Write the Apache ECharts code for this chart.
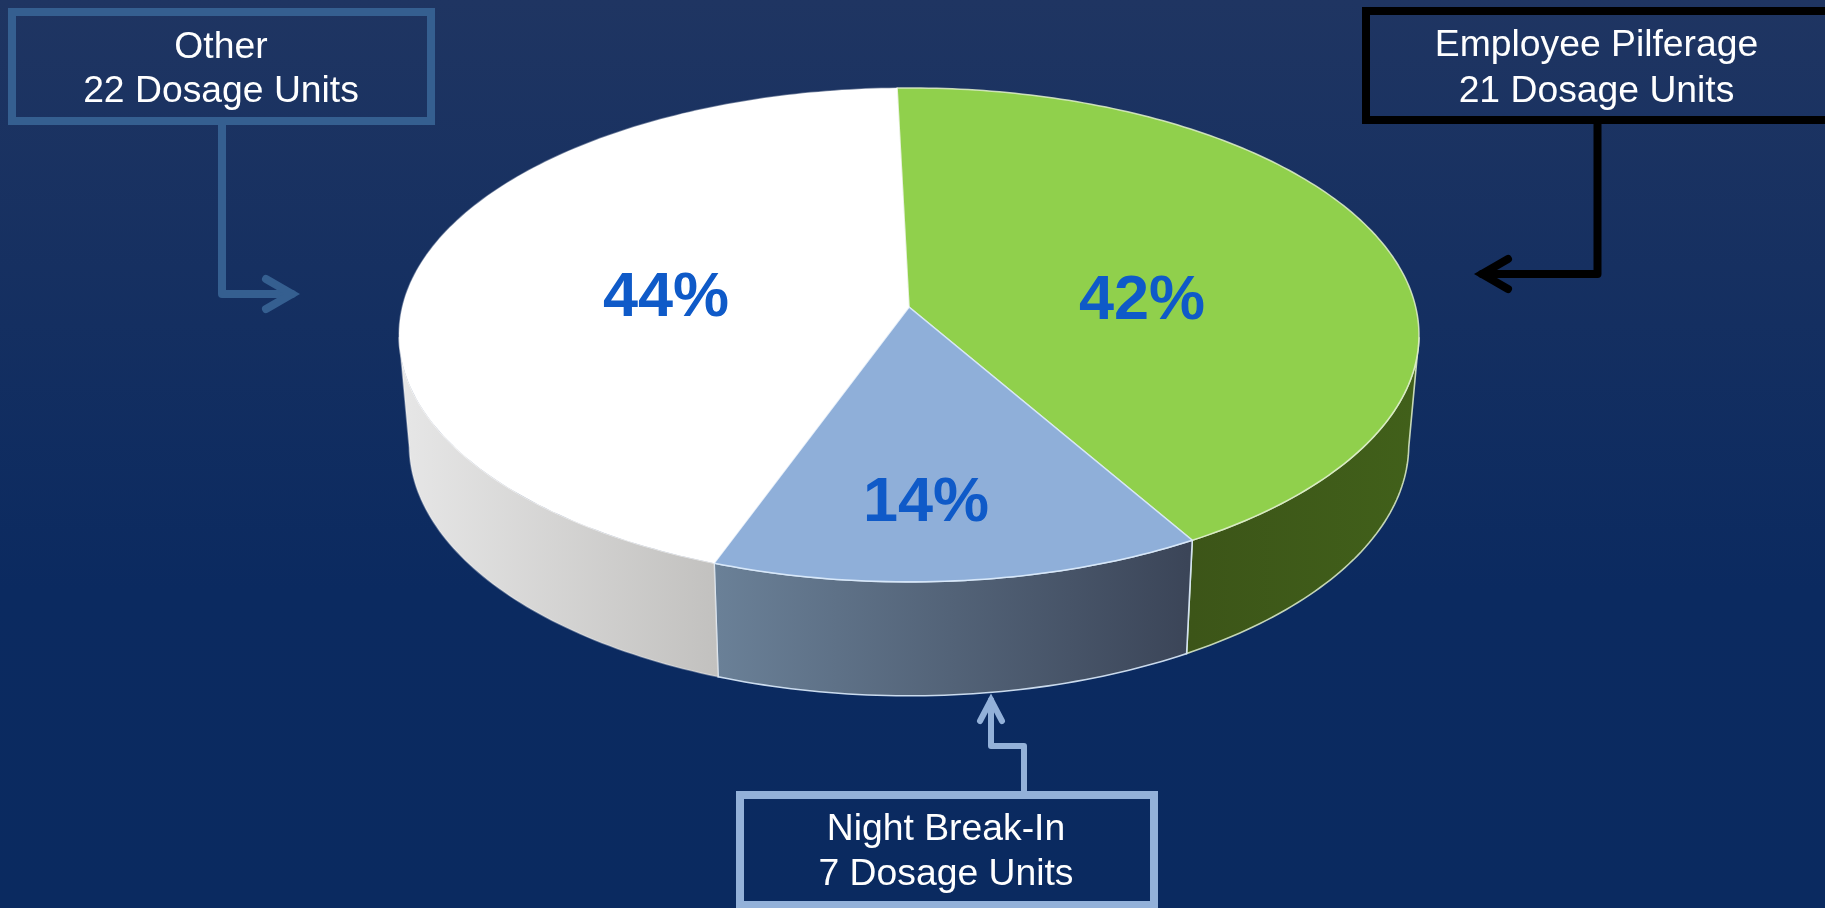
<!DOCTYPE html>
<html><head><meta charset="utf-8">
<style>html,body{margin:0;padding:0;background:#0a2a60}#c{width:1825px;height:908px}</style>
<script src="https://cdn.jsdelivr.net/npm/echarts@6/dist/echarts.min.js"></script>
</head><body><div id="c"></div>
<script>
// ---- data ----
const categories = ['Employee Pilferage', 'Night Break-In', 'Other'];
const dosageUnits = [21, 7, 22];
const unitLabel = 'Dosage Units';
const topColors = ['#90d04c', '#8fafd9', '#ffffff'];
const sideStops = [['#3c5518', '#41601a'], ['#6a8097', '#3b4558'], ['#e6e6e6', '#c2c1bf']];
const sideX = [[1190, 1415], [718, 1188], [405, 716]];
const edgeColors = ['rgba(225,240,205,.85)', 'rgba(220,235,252,.9)', 'rgba(255,255,255,.35)'];
const labelPos = [[1142, 302], [926, 504], [666, 299]];
const startAngle = -1.5;
const frontFrom = 97, frontTo = 263; // part of the rim that faces the viewer

// ---- projection of the disc (a tilted circle seen in perspective) ----
const CX = 909, CY = 307, K = 0.113, A = 506.7, B = 243.8;
const total = dosageUnits.reduce((a, b) => a + b, 0);
const rows = [];
let acc = startAngle;
dosageUnits.forEach((v, i) => {
  const sweep = v / total * 360;
  rows.push([i, v, acc, acc + sweep]);
  acc += sweep;
});
function discTop(deg, r) {
  const t = deg * Math.PI / 180, u = r * Math.sin(t), v = -r * Math.cos(t), w = 1 - K * v;
  return [CX + A * u / w, CY + B * v / w];
}
function discBottom(deg) {
  const p = discTop(deg, 1);
  return [CX + (p[0] - CX) * 0.98, 335 + (p[1] - 335) * 1.016 + 110];
}
function arc(fn, a0, a1) {
  const out = [], n = Math.max(2, Math.ceil(Math.abs(a1 - a0)));
  for (let i = 0; i <= n; i++) out.push(fn(a0 + (a1 - a0) * i / n));
  return out;
}
function sideItem(params, api) {
  const i = api.value(0);
  const a0 = Math.max(api.value(2), frontFrom), a1 = Math.min(api.value(3), frontTo);
  if (a1 <= a0) return null;
  const pts = arc(d => discTop(d, 1), a0, a1).concat(arc(discBottom, a1, a0));
  return {
    type: 'polygon', shape: { points: pts },
    style: {
      fill: new echarts.graphic.LinearGradient(sideX[i][0], 0, sideX[i][1], 0, [
        { offset: 0, color: sideStops[i][0] }, { offset: 1, color: sideStops[i][1] }], true),
      stroke: edgeColors[i], lineWidth: 1.6
    }
  };
}
function topItem(params, api) {
  const i = api.value(0), a0 = api.value(2), a1 = api.value(3);
  const pts = [discTop(0, 0)].concat(arc(d => discTop(d, 1), a0, a1));
  return {
    type: 'polygon', shape: { points: pts },
    style: { fill: topColors[i], stroke: edgeColors[i], lineWidth: 1.5, lineJoin: 'round' }
  };
}
function labelItem(params, api) {
  const i = api.value(0);
  return {
    type: 'text', x: labelPos[i][0], y: labelPos[i][1],
    style: {
      text: Math.round(api.value(1) / total * 100) + '%',
      font: 'bold 63px "Liberation Sans", Arial, sans-serif',
      fill: '#0f5ac8', align: 'center', verticalAlign: 'middle'
    }
  };
}
const labelFont = '37.3px "Liberation Sans", Arial, sans-serif';
function box(x0, y0, x1, y1, color, tx, y1t, y2t, idx) {
  return [
    { type: 'rect', z: 10, shape: { x: x0, y: y0, width: x1 - x0, height: y1 - y0 },
      style: { fill: 'none', stroke: color, lineWidth: 8 } },
    { type: 'text', z: 11, x: tx, y: y1t, style: { text: categories[idx], font: labelFont, fill: '#fff', align: 'center', verticalAlign: 'middle' } },
    { type: 'text', z: 11, x: tx, y: y2t, style: { text: dosageUnits[idx] + ' ' + unitLabel, font: labelFont, fill: '#fff', align: 'center', verticalAlign: 'middle' } }
  ];
}
function arrow(points, head, color, w) {
  const s = { fill: 'none', stroke: color, lineWidth: w, lineCap: 'round', lineJoin: 'round' };
  return [
    { type: 'polyline', z: 9, shape: { points }, style: s },
    { type: 'polyline', z: 9, shape: { points: head }, style: { ...s, lineJoin: 'miter' } }
  ];
}
const graphicEls = [].concat(
  box(12, 12, 431, 121, '#355f90', 221, 48, 92, 2),
  arrow([[222, 121], [222, 294], [292, 294]], [[266, 279], [292, 294], [266, 309]], '#355f90', 8),
  box(1366, 11, 1830, 120, '#000000', 1596.5, 46, 92, 0),
  arrow([[1597.5, 120], [1597.5, 274], [1482, 274]], [[1508, 259], [1482, 274], [1508, 289]], '#000000', 8),
  box(740, 795, 1154, 905, '#93b1d9', 946, 830, 875, 1),
  arrow([[1024, 795], [1024, 746], [991, 746], [991, 700]], [[980, 721], [991, 700], [1002, 721]], '#93b1d9', 6)
);
const chart = echarts.init(document.getElementById('c'), null, { renderer: 'canvas' });
chart.setOption({
  animation: false,
  backgroundColor: new echarts.graphic.LinearGradient(0, 0, 0, 1, [
    { offset: 0, color: '#1f3562' }, { offset: 0.65, color: '#0b2a60' }, { offset: 1, color: '#0a2a60' }]),
  graphic: { elements: graphicEls },
  series: [
    { type: 'custom', coordinateSystem: 'none', z: 1, silent: true, data: rows, renderItem: sideItem },
    { type: 'custom', coordinateSystem: 'none', z: 2, silent: true, data: rows, renderItem: topItem },
    { type: 'custom', coordinateSystem: 'none', z: 3, silent: true, data: rows, renderItem: labelItem }
  ]
});
</script></body></html>
